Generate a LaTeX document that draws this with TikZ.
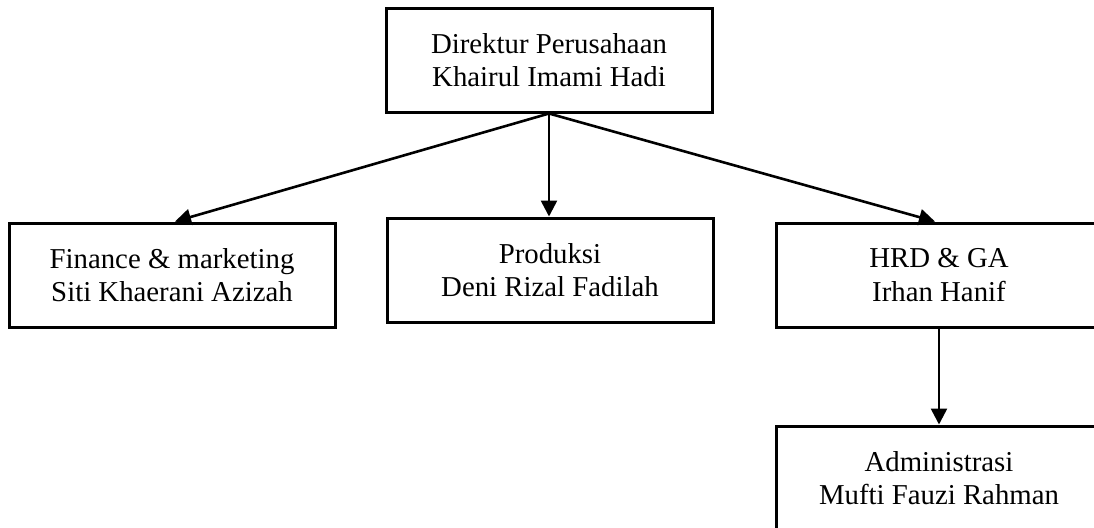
\documentclass[tikz,border=0pt]{standalone}
\usepackage{fontspec}
\setmainfont{Liberation Serif}
\usetikzlibrary{arrows.meta}
\begin{document}
\begin{tikzpicture}[x=0.5pt,y=-0.5pt,
  orgbox/.style={draw=black, line width=1.5pt, rectangle, align=center,
    minimum width=163pt, minimum height=52pt, inner sep=0pt,
    font=\fontsize{14.4}{16.8}\selectfont},
  link/.style={line width=1.3pt, -{Triangle[length=8pt,width=8pt]}}]
\useasboundingbox (0,0) rectangle (1094,527);
\clip (0,0) rectangle (1094,527);
\node[orgbox] (dir) at (549,60) {Direktur Perusahaan\\Khairul Imami Hadi};
\node[orgbox] (fin) at (172,275) {Finance \& marketing\\Siti Khaerani Azizah};
\node[orgbox] (prod) at (550,270) {Produksi\\Deni Rizal Fadilah};
\node[orgbox] (hrd) at (939,275) {HRD \& GA\\Irhan Hanif};
\node[orgbox] (adm) at (939,478) {Administrasi\\Mufti Fauzi Rahman};
\draw[link] (dir.south) -- ([xshift=1.5pt]fin.north);
\draw[link] (dir.south) -- (dir.south |- prod.north);
\draw[link] (dir.south) -- ([xshift=-2pt]hrd.north);
\draw[link] (hrd.south) -- (adm.north);
\end{tikzpicture}
\end{document}
